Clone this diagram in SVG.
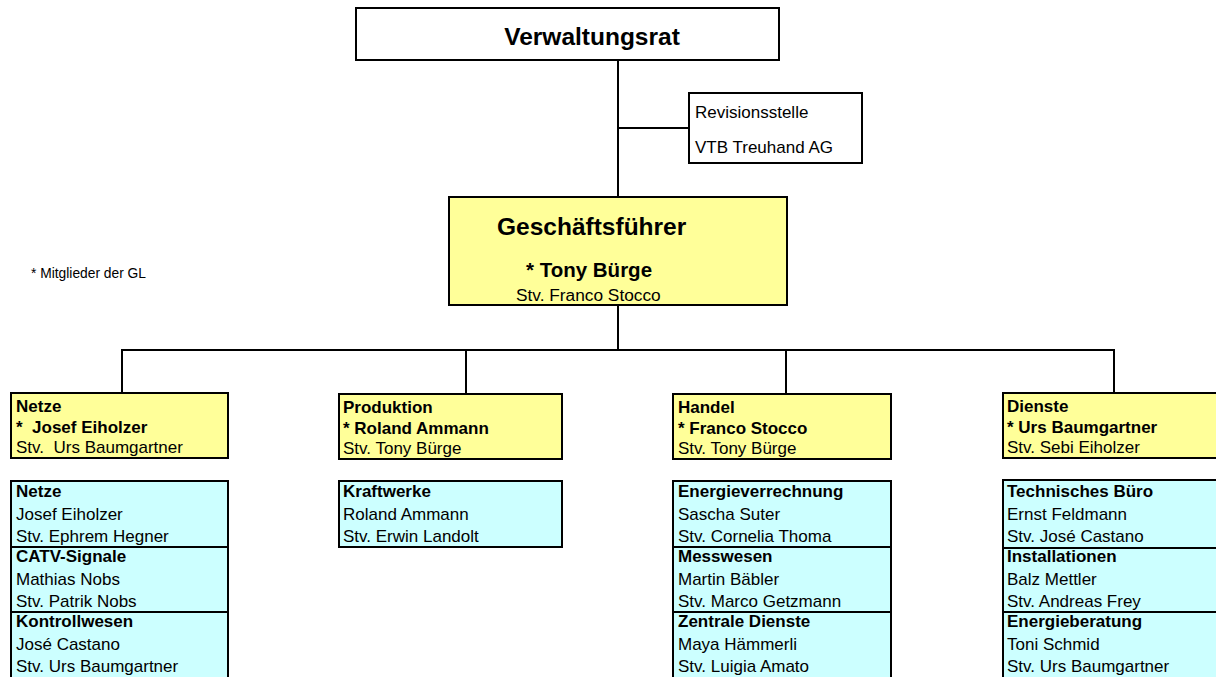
<svg xmlns="http://www.w3.org/2000/svg" width="1216" height="677" viewBox="0 0 1216 677">
<style>
text{font-family:"Liberation Sans",Arial,sans-serif;fill:#000;white-space:pre}
.b{font-weight:bold}
.t{font-size:17px}
.box{stroke:#000;stroke-width:2}
.y{fill:#FFFF99}
.c{fill:#CCFFFF}
.w{fill:#fff}
.ln{stroke:#000;stroke-width:2;fill:none}
</style>
<rect width="1216" height="677" fill="#fff"/>
<g id="connectors">
<line class="ln" x1="618" y1="60" x2="618" y2="197"/>
<line class="ln" x1="618" y1="128" x2="689" y2="128"/>
<line class="ln" x1="618" y1="305" x2="618" y2="350"/>
<polyline class="ln" points="122,393 122,350 1114,350 1114,393"/>
<line class="ln" x1="466" y1="350" x2="466" y2="394"/>
<line class="ln" x1="786" y1="350" x2="786" y2="394"/>
</g>
<g id="verwaltungsrat">
<rect class="box w" x="356" y="8" width="423" height="52"/>
<text class="b" x="592" y="45" font-size="24.5" text-anchor="middle">Verwaltungsrat</text>
</g>
<g id="revisionsstelle">
<rect class="box w" x="689" y="93" width="173" height="70"/>
<text class="t" x="695" y="118">Revisionsstelle</text>
<text class="t" x="695" y="153">VTB Treuhand AG</text>
</g>
<g id="geschaeftsfuehrer">
<rect class="box y" x="449" y="197" width="338" height="108"/>
<text class="b" x="497" y="235" font-size="24.5">Geschäftsführer</text>
<text class="b" x="526" y="277" font-size="20.5">* Tony Bürge</text>
<text x="516" y="301" font-size="17.3">Stv. Franco Stocco</text>
</g>
<g id="legende">
<text x="31" y="278" font-size="13.8">* Mitglieder der GL</text>
</g>
<g id="netze-leitung">
<rect class="box y" x="11" y="393" width="217" height="65"/>
<text class="t b" x="16" y="412">Netze</text>
<text class="t b" x="16" y="433">*  Josef Eiholzer</text>
<text class="t" x="16" y="453">Stv.  Urs Baumgartner</text>
</g>
<g id="produktion-leitung">
<rect class="box y" x="339" y="394" width="223" height="65"/>
<text class="t b" x="343" y="413">Produktion</text>
<text class="t b" x="343" y="434">* Roland Ammann</text>
<text class="t" x="343" y="454">Stv. Tony Bürge</text>
</g>
<g id="handel-leitung">
<rect class="box y" x="673" y="394" width="218" height="65"/>
<text class="t b" x="678" y="413">Handel</text>
<text class="t b" x="678" y="434">* Franco Stocco</text>
<text class="t" x="678" y="454">Stv. Tony Bürge</text>
</g>
<g id="dienste-leitung">
<rect class="box y" x="1003" y="393" width="220" height="65"/>
<text class="t b" x="1007" y="412">Dienste</text>
<text class="t b" x="1007" y="433">* Urs Baumgartner</text>
<text class="t" x="1007" y="453">Stv. Sebi Eiholzer</text>
</g>
<g id="netze-abteilungen">
<rect class="box c" x="11" y="481" width="217" height="66"/>
<rect class="box c" x="11" y="547" width="217" height="65"/>
<rect class="box c" x="11" y="612" width="217" height="70"/>
<text class="t b" x="16" y="497">Netze</text>
<text class="t" x="16" y="520">Josef Eiholzer</text>
<text class="t" x="16" y="542">Stv. Ephrem Hegner</text>
<text class="t b" x="16" y="562">CATV-Signale</text>
<text class="t" x="16" y="585">Mathias Nobs</text>
<text class="t" x="16" y="607">Stv. Patrik Nobs</text>
<text class="t b" x="16" y="627">Kontrollwesen</text>
<text class="t" x="16" y="650">José Castano</text>
<text class="t" x="16" y="672">Stv. Urs Baumgartner</text>
</g>
<g id="produktion-abteilungen">
<rect class="box c" x="339" y="481" width="223" height="66"/>
<text class="t b" x="343" y="497">Kraftwerke</text>
<text class="t" x="343" y="520">Roland Ammann</text>
<text class="t" x="343" y="542">Stv. Erwin Landolt</text>
</g>
<g id="handel-abteilungen">
<rect class="box c" x="673" y="481" width="218" height="66"/>
<rect class="box c" x="673" y="547" width="218" height="65"/>
<rect class="box c" x="673" y="612" width="218" height="70"/>
<text class="t b" x="678" y="497">Energieverrechnung</text>
<text class="t" x="678" y="520">Sascha Suter</text>
<text class="t" x="678" y="542">Stv. Cornelia Thoma</text>
<text class="t b" x="678" y="562">Messwesen</text>
<text class="t" x="678" y="585">Martin Bäbler</text>
<text class="t" x="678" y="607">Stv. Marco Getzmann</text>
<text class="t b" x="678" y="627">Zentrale Dienste</text>
<text class="t" x="678" y="650">Maya Hämmerli</text>
<text class="t" x="678" y="672">Stv. Luigia Amato</text>
</g>
<g id="dienste-abteilungen">
<rect class="box c" x="1003" y="480" width="220" height="68"/>
<rect class="box c" x="1003" y="548" width="220" height="64"/>
<rect class="box c" x="1003" y="612" width="220" height="70"/>
<text class="t b" x="1007" y="497">Technisches Büro</text>
<text class="t" x="1007" y="520">Ernst Feldmann</text>
<text class="t" x="1007" y="542">Stv. José Castano</text>
<text class="t b" x="1007" y="562">Installationen</text>
<text class="t" x="1007" y="585">Balz Mettler</text>
<text class="t" x="1007" y="607">Stv. Andreas Frey</text>
<text class="t b" x="1007" y="627">Energieberatung</text>
<text class="t" x="1007" y="650">Toni Schmid</text>
<text class="t" x="1007" y="672">Stv. Urs Baumgartner</text>
</g>
</svg>
